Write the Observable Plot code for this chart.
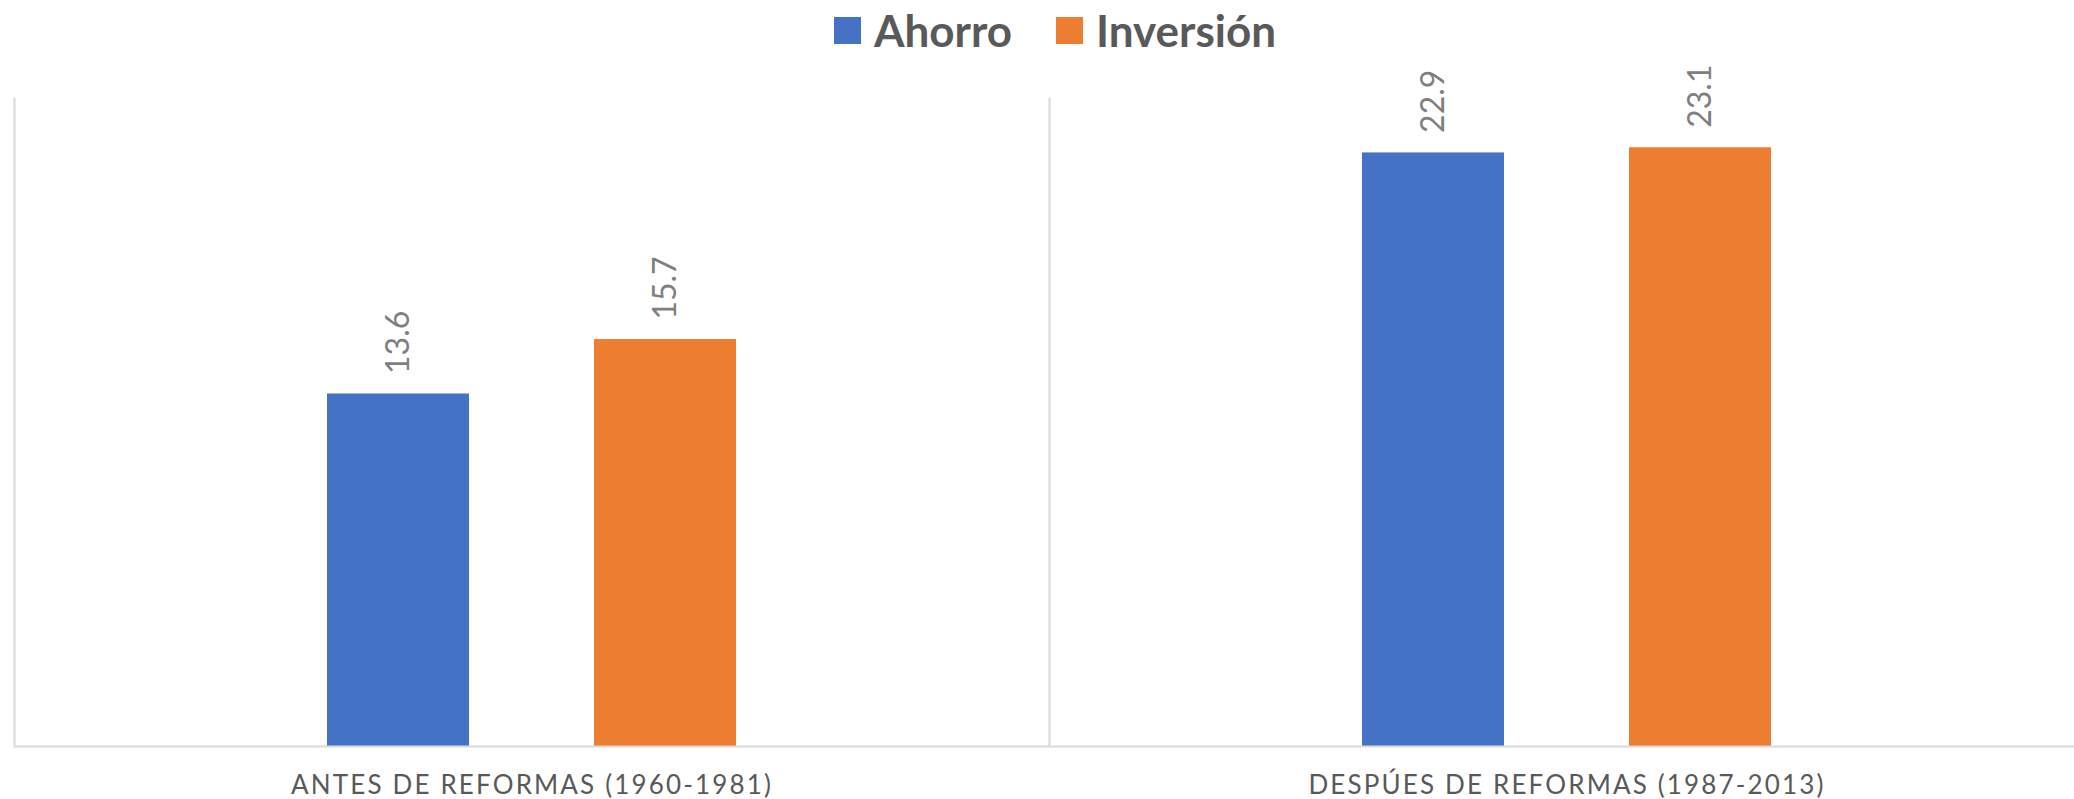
<!DOCTYPE html>
<html>
<head>
<meta charset="utf-8">
<script src="https://cdn.jsdelivr.net/npm/d3@7"></script>
<script src="https://cdn.jsdelivr.net/npm/@observablehq/plot@0.6"></script>
<style>
  html, body { margin: 0; padding: 0; background: #ffffff; }
  #legend { height: 60px; position: relative; font-family: Lato, "Liberation Sans", sans-serif; font-weight: 700; font-size: 44px; color: #595959; }
  #legend .item { position: absolute; top: 0; display: flex; align-items: center; height: 60px; }
  #legend .sw { width: 27px; height: 27px; margin-right: 13px; }
  #chart svg g[aria-label^="fx-axis"] text { letter-spacing: 2.15px; }
</style>
</head>
<body>
<div id="legend"></div>
<div id="chart"></div>
<script>
const categories = ["ANTES DE REFORMAS (1960-1981)", "DESPÚES DE REFORMAS (1987-2013)"];
const series = ["Ahorro", "Inversión"];
const ahorro = [13.6, 22.9];
const inversion = [15.7, 23.1];
const seriesColors = ["#4472C4", "#ED7D31"];

const data = categories.flatMap((c, i) => [
  {category: c, series: series[0], value: ahorro[i]},
  {category: c, series: series[1], value: inversion[i]}
]);

// legend
const legend = document.getElementById("legend");
const legendLeft = [834, 1056];
series.forEach((s, i) => {
  const item = document.createElement("div");
  item.className = "item";
  item.style.left = legendLeft[i] + "px";
  const sw = document.createElement("div");
  sw.className = "sw";
  sw.style.background = seriesColors[i];
  const t = document.createElement("span");
  t.textContent = s;
  item.appendChild(sw);
  item.appendChild(t);
  legend.appendChild(item);
});

const chart = Plot.plot({
  width: 2074,
  height: 739,
  marginTop: 38,
  marginBottom: 53,
  marginLeft: 13,
  marginRight: -10,
  style: {fontFamily: "Lato, 'Liberation Sans', sans-serif", background: "#ffffff", overflow: "hidden"},
  fx: {domain: categories, padding: 0, label: null},
  x: {domain: series, paddingInner: 0.47, paddingOuter: 1.166, axis: null},
  y: {domain: [0, 25], axis: null},
  color: {domain: series, range: seriesColors},
  marks: [
    Plot.frame({anchor: "left", stroke: "#d9d9d9", strokeWidth: 2}),
    Plot.barY(data, {fx: "category", x: "series", y: "value", fill: "series"}),
    Plot.ruleY([0], {stroke: "#d9d9d9", strokeWidth: 2}),
    Plot.text(data, {
      fx: "category", x: "series", y: "value",
      text: d => d.value.toFixed(1),
      rotate: -90, textAnchor: "start", dy: -20,
      fontSize: 32, fill: "#7f7f7f"
    }),
    Plot.axisFx({anchor: "bottom", tickSize: 0, tickPadding: 29, fontSize: 26, color: "#595959", label: null})
  ]
});
document.getElementById("chart").appendChild(chart);
</script>
</body>
</html>
